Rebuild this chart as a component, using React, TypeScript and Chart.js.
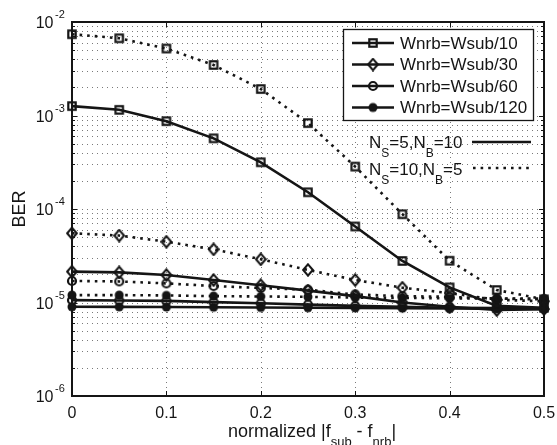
import React, { useEffect, useRef } from 'react';
import { Chart, registerables } from 'chart.js';

Chart.register(...registerables);

// ---------- data ----------
const xValues = [0, 0.05, 0.1, 0.15, 0.2, 0.25, 0.3, 0.35, 0.4, 0.45, 0.5];
const xTicks = [0, 0.1, 0.2, 0.3, 0.4, 0.5];
const xTickLabels = ['0', '0.1', '0.2', '0.3', '0.4', '0.5'];
const yDecades = [-6, -5, -4, -3, -2];

const legendLabels = ['Wnrb=Wsub/10', 'Wnrb=Wsub/30', 'Wnrb=Wsub/60', 'Wnrb=Wsub/120'];
const markerKinds = ['square', 'diamond', 'circle', 'dot'];

// N_S=5, N_B=10 (solid)
const sub10Solid = [1.26e-3, 1.15e-3, 8.7e-4, 5.7e-4, 3.16e-4, 1.51e-4, 6.5e-5, 2.78e-5, 1.45e-5, 9.2e-6, 8.8e-6];
const sub30Solid = [2.14e-5, 2.1e-5, 1.97e-5, 1.74e-5, 1.53e-5, 1.34e-5, 1.17e-5, 1.0e-5, 9.0e-6, 8.3e-6, 8.5e-6];
const sub60Solid = [1.06e-5, 1.05e-5, 1.04e-5, 1.01e-5, 9.8e-6, 9.5e-6, 9.2e-6, 9.0e-6, 8.8e-6, 8.7e-6, 8.6e-6];
const sub120Solid = [9.0e-6, 8.98e-6, 8.95e-6, 8.9e-6, 8.85e-6, 8.8e-6, 8.75e-6, 8.7e-6, 8.65e-6, 8.6e-6, 8.55e-6];
// N_S=10, N_B=5 (dotted)
const sub10Dotted = [7.4e-3, 6.7e-3, 5.2e-3, 3.47e-3, 1.92e-3, 8.3e-4, 2.84e-4, 8.8e-5, 2.8e-5, 1.36e-5, 1.08e-5];
const sub30Dotted = [5.5e-5, 5.2e-5, 4.47e-5, 3.7e-5, 2.9e-5, 2.23e-5, 1.74e-5, 1.44e-5, 1.26e-5, 1.07e-5, 1.03e-5];
const sub60Dotted = [1.7e-5, 1.68e-5, 1.6e-5, 1.5e-5, 1.43e-5, 1.37e-5, 1.22e-5, 1.17e-5, 1.15e-5, 1.1e-5, 1.08e-5];
const sub120Dotted = [1.2e-5, 1.2e-5, 1.19e-5, 1.17e-5, 1.16e-5, 1.15e-5, 1.13e-5, 1.12e-5, 1.11e-5, 1.1e-5, 1.1e-5];

const solidSeries = [sub10Solid, sub30Solid, sub60Solid, sub120Solid];
const dottedSeries = [sub10Dotted, sub30Dotted, sub60Dotted, sub120Dotted];

// ---------- styles ----------
const FONT = "'Liberation Sans', Arial, Helvetica, sans-serif";
const INK = '#151515';
const DOT_DASH = [2.6, 5];

function makeMarker(kind: string): HTMLCanvasElement {
  const c = document.createElement('canvas');
  const w = kind === 'diamond' ? 12 : 12;
  const h = kind === 'diamond' ? 14 : 12;
  c.width = w;
  c.height = h;
  const g = c.getContext('2d')!;
  g.strokeStyle = INK;
  g.fillStyle = INK;
  g.lineWidth = 2.2;
  if (kind === 'square') {
    g.strokeRect(2.3, 2.3, 7.4, 7.4);
  } else if (kind === 'diamond') {
    g.lineWidth = 2;
    g.beginPath();
    g.moveTo(6, 1.3);
    g.lineTo(10.8, 7);
    g.lineTo(6, 12.7);
    g.lineTo(1.2, 7);
    g.closePath();
    g.stroke();
  } else if (kind === 'circle') {
    g.beginPath();
    g.arc(6, 6, 4, 0, Math.PI * 2);
    g.stroke();
  } else {
    g.beginPath();
    g.arc(6, 6, 4.5, 0, Math.PI * 2);
    g.fill();
  }
  return c;
}

function drawSubText(ctx: CanvasRenderingContext2D, parts: [string, boolean][], x: number, y: number, main: number, sub: number, subDy: number) {
  let cx = x;
  for (const [t, isSub] of parts) {
    ctx.font = `${isSub ? sub : main}px ${FONT}`;
    ctx.fillText(t, cx, isSub ? y + subDy : y);
    cx += ctx.measureText(t).width;
  }
  return cx;
}

function measureSubText(ctx: CanvasRenderingContext2D, parts: [string, boolean][], main: number, sub: number) {
  let w = 0;
  for (const [t, isSub] of parts) {
    ctx.font = `${isSub ? sub : main}px ${FONT}`;
    w += ctx.measureText(t).width;
  }
  return w;
}

export default function App() {
  const ref = useRef<HTMLCanvasElement | null>(null);

  useEffect(() => {
    if (!ref.current) return;
    const markers = markerKinds.map(makeMarker);

    const mkData = (arr: number[]) => xValues.map((x, i) => ({ x, y: arr[i] }));

    const datasets: any[] = [];
    solidSeries.forEach((s, i) => {
      datasets.push({
        label: legendLabels[i] + ' solid',
        data: mkData(s),
        borderColor: INK,
        borderWidth: 2.6,
        pointStyle: markers[i],
        pointRadius: 5,
        clip: false,
        tension: 0,
      });
    });
    dottedSeries.forEach((s, i) => {
      datasets.push({
        label: legendLabels[i] + ' dotted',
        data: mkData(s),
        borderColor: INK,
        borderWidth: 2.6,
        borderDash: DOT_DASH,
        borderCapStyle: 'butt',
        pointStyle: markers[i],
        pointRadius: 5,
        clip: false,
        tension: 0,
      });
    });

    const plugin = {
      id: 'matlabStyle',
      beforeDatasetsDraw(chart: any) {
        const { ctx, chartArea: a, scales } = chart;
        const xs = scales.x;
        const ys = scales.y;
        ctx.save();
        ctx.strokeStyle = '#7a7a7a';
        ctx.lineWidth = 1;
        ctx.setLineDash([1, 4]);
        for (const v of xTicks) {
          const px = Math.round(xs.getPixelForValue(v)) + 0.5;
          ctx.beginPath();
          ctx.moveTo(px, a.top);
          ctx.lineTo(px, a.bottom);
          ctx.stroke();
        }
        for (let d = yDecades[0]; d < yDecades[yDecades.length - 1]; d++) {
          for (let m = 1; m < 10; m++) {
            const py = Math.round(ys.getPixelForValue(m * Math.pow(10, d))) + 0.5;
            ctx.beginPath();
            ctx.moveTo(a.left, py);
            ctx.lineTo(a.right, py);
            ctx.stroke();
          }
        }
        ctx.restore();
      },
      afterDatasetsDraw(chart: any) {
        const { ctx, chartArea: a, scales } = chart;
        const xs = scales.x;
        const ys = scales.y;
        ctx.save();
        ctx.setLineDash([]);
        ctx.strokeStyle = INK;
        ctx.fillStyle = INK;

        // ticks (inside)
        ctx.lineWidth = 1;
        for (const v of xTicks) {
          const px = Math.round(xs.getPixelForValue(v)) + 0.5;
          ctx.beginPath();
          ctx.moveTo(px, a.bottom);
          ctx.lineTo(px, a.bottom - 5);
          ctx.moveTo(px, a.top);
          ctx.lineTo(px, a.top + 5);
          ctx.stroke();
        }
        for (let d = yDecades[0]; d <= yDecades[yDecades.length - 1]; d++) {
          for (let m = 1; m < 10; m++) {
            if (d === yDecades[yDecades.length - 1] && m > 1) break;
            const len = m === 1 ? 5 : 3;
            const py = Math.round(ys.getPixelForValue(m * Math.pow(10, d))) + 0.5;
            ctx.beginPath();
            ctx.moveTo(a.left, py);
            ctx.lineTo(a.left + len, py);
            ctx.moveTo(a.right, py);
            ctx.lineTo(a.right - len, py);
            ctx.stroke();
          }
        }

        // frame
        ctx.lineWidth = 2;
        ctx.strokeRect(a.left, a.top, a.right - a.left, a.bottom - a.top);

        // x tick labels
        ctx.font = `16px ${FONT}`;
        ctx.textAlign = 'center';
        ctx.textBaseline = 'alphabetic';
        xTicks.forEach((v, i) => {
          ctx.fillText(xTickLabels[i], xs.getPixelForValue(v), a.bottom + 21.5);
        });

        // y tick labels 10^n
        for (const d of yDecades) {
          const py = ys.getPixelForValue(Math.pow(10, d));
          ctx.font = `16px ${FONT}`;
          ctx.textAlign = 'right';
          ctx.fillText('10', a.left - 18.5, py + 6);
          ctx.font = `11px ${FONT}`;
          ctx.textAlign = 'left';
          ctx.fillText(String(d), a.left - 17, py - 4);
        }

        // y title
        ctx.save();
        ctx.translate(24.5, (a.top + a.bottom) / 2);
        ctx.rotate(-Math.PI / 2);
        ctx.font = `18px ${FONT}`;
        ctx.textAlign = 'center';
        ctx.fillText('BER', 0, 0);
        ctx.restore();

        // x title
        ctx.textAlign = 'left';
        const xt: [string, boolean][] = [['normalized |f', false], ['sub', true], [' - f', false], ['nrb', true], ['|', false]];
        const tw = measureSubText(ctx, xt, 18, 13);
        drawSubText(ctx, xt, (a.left + a.right) / 2 + 4 - tw / 2, 437, 18, 13, 9);

        // legend box
        const lx = 343, ly = 29, lw = 190, lh = 91;
        ctx.fillStyle = '#ffffff';
        ctx.fillRect(lx, ly, lw, lh);
        ctx.lineWidth = 1.3;
        ctx.strokeStyle = INK;
        ctx.strokeRect(lx + 0.5, ly + 0.5, lw, lh);
        ctx.fillStyle = INK;
        const rows = [43, 64.5, 86, 107.5];
        legendLabels.forEach((lab, i) => {
          const ry = rows[i];
          ctx.lineWidth = 2.6;
          ctx.beginPath();
          ctx.moveTo(352, ry);
          ctx.lineTo(394, ry);
          ctx.stroke();
          const mk = markers[i];
          ctx.drawImage(mk, 373 - mk.width / 2, ry - mk.height / 2);
          ctx.font = `17px ${FONT}`;
          ctx.textAlign = 'left';
          ctx.textBaseline = 'middle';
          ctx.fillText(lab, 400, ry + 1);
        });
        ctx.textBaseline = 'alphabetic';

        // line-style annotations
        const a1: [string, boolean][] = [['N', false], ['S', true], ['=5,N', false], ['B', true], ['=10', false]];
        const a2: [string, boolean][] = [['N', false], ['S', true], ['=10,N', false], ['B', true], ['=5', false]];
        drawSubText(ctx, a1, 369, 147.5, 17, 12, 9.5);
        drawSubText(ctx, a2, 369, 174.5, 17, 12, 9.5);
        ctx.lineWidth = 2.6;
        ctx.beginPath();
        ctx.moveTo(472, 142);
        ctx.lineTo(531, 142);
        ctx.stroke();
        ctx.setLineDash(DOT_DASH);
        ctx.beginPath();
        ctx.moveTo(473, 168);
        ctx.lineTo(532, 168);
        ctx.stroke();
        ctx.restore();
      },
    };

    const chart = new Chart(ref.current, {
      type: 'line',
      data: { datasets },
      options: {
        animation: false,
        responsive: false,
        devicePixelRatio: 1,
        layout: { padding: { left: 72, top: 22, right: 13, bottom: 49 } },
        plugins: { legend: { display: false }, tooltip: { enabled: false } },
        scales: {
          x: { type: 'linear', min: 0, max: 0.5, display: false },
          y: { type: 'logarithmic', min: 1e-6, max: 1e-2, display: false },
        },
      },
      plugins: [plugin],
    } as any);

    return () => chart.destroy();
  }, []);

  return (
    <div style={{ position: 'fixed', left: 0, top: 0, width: 557, height: 445, background: '#fff' }}>
      <canvas ref={ref} width={557} height={445} style={{ width: 557, height: 445, display: 'block' }} />
    </div>
  );
}
